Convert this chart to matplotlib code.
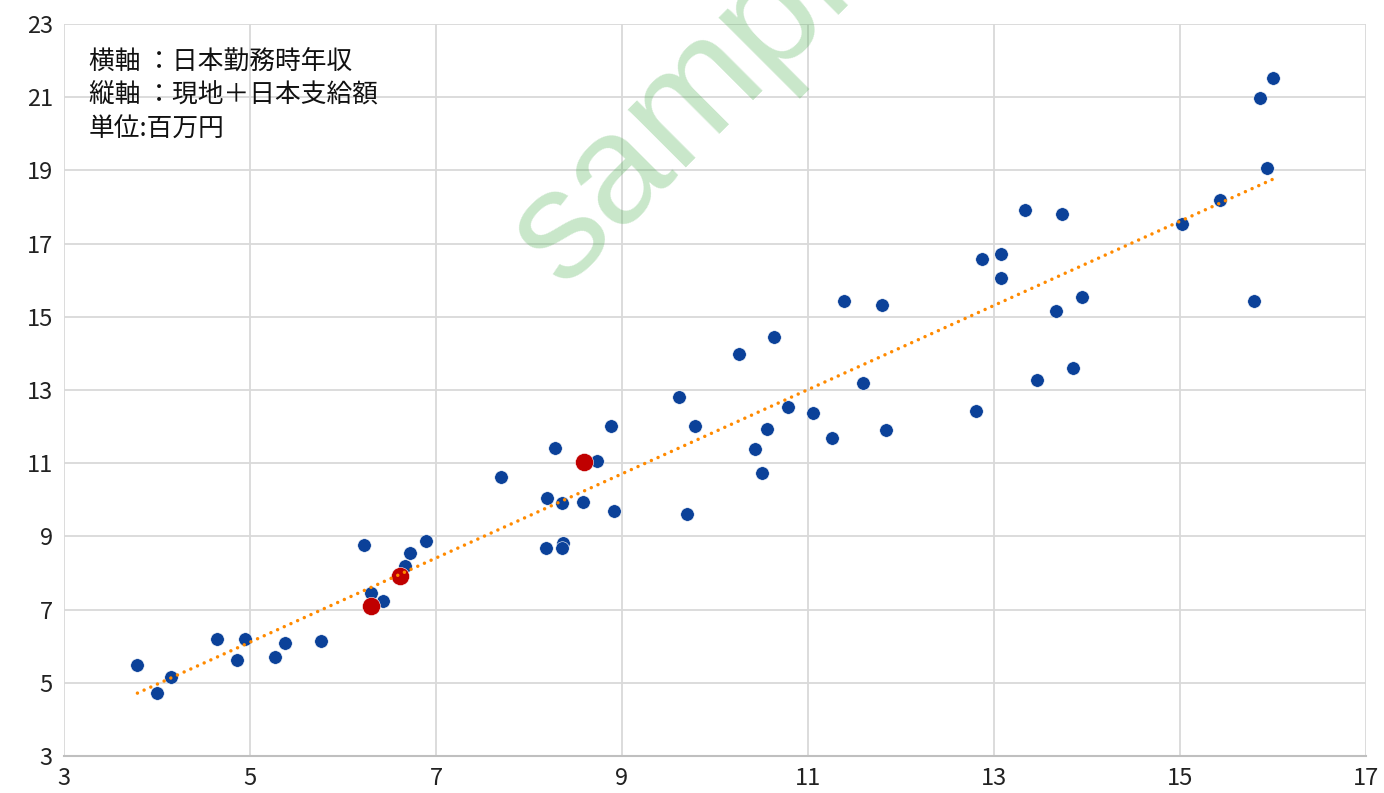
import matplotlib.pyplot as plt
import numpy as np

plt.rcParams['font.family'] = ['Noto Sans CJK JP', 'DejaVu Sans']

# 日本勤務時年収 (x) / 現地+日本支給額 (y), 単位: 百万円
blue_x = [3.79, 4.00, 4.15, 4.65, 4.86, 4.95, 5.27, 5.38, 5.76, 6.23,
          6.30, 6.43, 6.67, 6.72, 6.89, 7.70, 8.19, 8.18, 8.28, 8.35,
          8.37, 8.35, 8.58, 8.73, 8.88, 8.91, 9.61, 9.70, 9.78, 10.26,
          10.43, 10.51, 10.56, 10.63, 10.78, 11.05, 11.26, 11.39, 11.59, 11.80,
          11.84, 12.81, 12.87, 13.08, 13.08, 13.33, 13.46, 13.67, 13.73, 13.85,
          13.95, 15.02, 15.43, 15.80, 15.86, 15.94, 16.00]
blue_y = [5.48, 4.72, 5.16, 6.20, 5.62, 6.20, 5.70, 6.09, 6.14, 8.77,
          7.45, 7.23, 8.19, 8.55, 8.87, 10.62, 10.05, 8.68, 11.42, 9.91,
          8.82, 8.68, 9.94, 11.06, 12.02, 9.69, 12.81, 9.61, 12.02, 13.98,
          11.39, 10.73, 11.93, 14.45, 12.54, 12.37, 11.69, 15.43, 13.19, 15.32,
          11.91, 12.43, 16.58, 16.72, 16.06, 17.92, 13.27, 15.16, 17.81, 13.60,
          15.54, 17.54, 18.19, 15.43, 20.98, 19.07, 21.52]

red_x = [6.30, 6.61, 8.59]
red_y = [7.10, 7.92, 11.03]

note_lines = ['横軸 ：日本勤務時年収', '縦軸 ：現地＋日本支給額', '単位:百万円']

fig = plt.figure(figsize=(13.84, 7.93), dpi=100)
ax = fig.add_axes([0.0462, 0.0467, 0.9408, 0.923])

# trendline over all points
all_x = np.array(blue_x + red_x)
all_y = np.array(blue_y + red_y)
slope, intercept = np.polyfit(all_x, all_y, 1)
tx = np.array([all_x.min(), all_x.max()])
ax.plot(tx, slope * tx + intercept, color='#FF8A00', lw=2.5,
        linestyle=(0, (0.01, 2.1)), dash_capstyle='round', zorder=4)

ax.scatter(blue_x, blue_y, s=95, color='#0B4199', edgecolors='white',
           linewidths=0.4, zorder=3)
ax.scatter(red_x, red_y, s=170, color='#C00000', edgecolors='white',
           linewidths=0.4, zorder=3)

ax.set_xlim(3, 17)
ax.set_ylim(3, 23)
ax.set_xticks(np.arange(3, 18, 2))
ax.set_yticks(np.arange(3, 24, 2))
ax.grid(True, color='#D9D9D9', lw=1.3)
ax.set_axisbelow(True)
for side in ['top', 'right', 'left']:
    ax.spines[side].set_visible(False)
ax.spines['bottom'].set_color('#BFBFBF')
ax.spines['bottom'].set_linewidth(1.5)
ax.tick_params(length=0, labelsize=17, colors='#222222', pad=8)

for i, line in enumerate(note_lines):
    ax.text(89 / 1384, 1 - (62 + i * 34) / 793, line,
            transform=fig.transFigure, fontsize=18.5, color='#111111',
            va='center', ha='left')

# watermark
fig.text(562 / 1384, 1 - 287 / 793, 'sample', fontsize=112,
         family='Liberation Sans', color='#4CAF50', alpha=0.3, rotation=45,
         rotation_mode='anchor', ha='left', va='baseline', zorder=10)

fig.savefig('out.png', dpi=100)
